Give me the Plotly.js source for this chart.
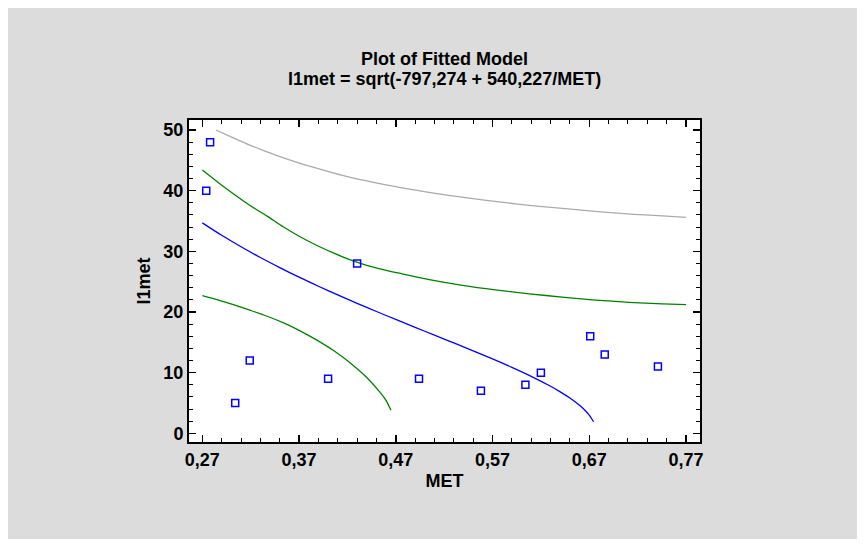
<!DOCTYPE html>
<html>
<head>
<meta charset="utf-8">
<script src="https://cdn.plot.ly/plotly-3.0.1.min.js"></script>
<style>
  html, body { margin: 0; padding: 0; background: #ffffff; }
  #chart { position: absolute; left: 8px; top: 8px; width: 849px; height: 531px; }
</style>
</head>
<body>
<div id="chart"></div>
<script>
// Observed values
const met   = [0.274, 0.278, 0.304, 0.319, 0.400, 0.430, 0.494, 0.558, 0.604, 0.620, 0.671, 0.686, 0.741];
const l1met = [40, 48, 5, 12, 9, 28, 9, 7, 8, 10, 16, 13, 11];

// Fitted model l1met = sqrt(-797,274 + 540,227/MET)
const fitX = [0.27, 0.29, 0.31, 0.33, 0.35, 0.37, 0.39, 0.41, 0.43, 0.45, 0.47, 0.49, 0.51,
              0.53, 0.55, 0.57, 0.59, 0.61, 0.63, 0.64, 0.65, 0.66, 0.665, 0.67, 0.6745];
const fitY = [34.69, 32.64, 30.75, 28.98, 27.32, 25.74, 24.25, 22.81, 21.43, 20.08, 18.77, 17.47, 16.19,
              14.90, 13.60, 12.27, 10.88, 9.40, 7.76, 6.84, 5.82, 4.61, 3.89, 3.01, 1.91];

// Confidence limits for the mean
const confUpX = [0.270, 0.286, 0.302, 0.319, 0.337, 0.354, 0.371, 0.388, 0.406, 0.423, 0.440, 0.457,
                 0.475, 0.506, 0.539, 0.573, 0.608, 0.642, 0.677, 0.711, 0.746, 0.770];
const confUpY = [43.4, 41.4, 39.5, 37.6, 35.8, 34.0, 32.4, 31.0, 29.7, 28.6, 27.7, 27.0,
                 26.35, 25.3, 24.4, 23.65, 23.0, 22.45, 21.95, 21.6, 21.35, 21.2];
const confLoX = [0.270, 0.286, 0.302, 0.319, 0.337, 0.354, 0.371, 0.388, 0.406, 0.423, 0.440, 0.454, 0.460, 0.465];
const confLoY = [22.7, 22.0, 21.2, 20.3, 19.3, 18.2, 16.9, 15.4, 13.6, 11.6, 9.2, 6.7, 5.4, 3.8];

// Upper prediction limit
const predUpX = [0.284, 0.302, 0.319, 0.337, 0.354, 0.371, 0.388, 0.406, 0.423, 0.440, 0.475, 0.509,
                 0.544, 0.579, 0.613, 0.648, 0.682, 0.716, 0.750, 0.770];
const predUpY = [50.0, 48.7, 47.5, 46.4, 45.4, 44.5, 43.7, 42.9, 42.2, 41.6, 40.5, 39.6,
                 38.8, 38.1, 37.5, 37.0, 36.5, 36.1, 35.8, 35.6];

// Axis ticks
const xTickVals = [0.27, 0.37, 0.47, 0.57, 0.67, 0.77];
const yTickVals = [0, 10, 20, 30, 40, 50];

const FONT = 'Liberation Sans, Arial, Helvetica, sans-serif';
const boldFont = (size) => ({ family: FONT, size: size, color: '#000000', weight: 'bold' });

const curve = (x, y, color) => ({
  x: x, y: y, type: 'scatter', mode: 'lines',
  line: { color: color, width: 1.3, shape: 'spline', smoothing: 0.8 },
  hoverinfo: 'skip', showlegend: false
});

const traces = [
  curve(predUpX, predUpY, '#aaaaaa'),
  curve(confUpX, confUpY, '#008000'),
  curve(confLoX, confLoY, '#008000'),
  curve(fitX, fitY, '#0000ff'),
  {
    x: met, y: l1met, type: 'scatter', mode: 'markers',
    marker: { symbol: 'square-open', size: 7, color: '#0000ff', line: { width: 1.5, color: '#0000ff' } },
    showlegend: false
  }
];

const axisCommon = {
  showgrid: false, zeroline: false,
  showline: true, linecolor: '#000000', linewidth: 2, mirror: 'allticks',
  ticks: 'inside', ticklen: 7, tickwidth: 1.5, tickcolor: '#000000',
  tickfont: boldFont(18)
};

const layout = {
  width: 849, height: 531,
  paper_bgcolor: '#dcdcdc', plot_bgcolor: '#ffffff',
  separators: ', ',
  margin: { l: 181, r: 157, t: 112, b: 97, pad: 0 },
  title: {
    text: 'Plot of Fitted Model', font: boldFont(18),
    xref: 'paper', x: 0.5, xanchor: 'center',
    yref: 'container', y: 0.904, yanchor: 'middle'
  },
  annotations: [{
    text: 'l1met = sqrt(-797,274 + 540,227/MET)', font: boldFont(18),
    xref: 'paper', x: 0.5, xanchor: 'center',
    yref: 'paper', y: 1.127, yanchor: 'middle',
    showarrow: false
  }],
  xaxis: Object.assign({}, axisCommon, {
    range: [0.2562, 0.7845],
    tickvals: xTickVals, tickformat: '.2f',
    minor: { tick0: 0.27, dtick: 0.02, ticks: 'inside', ticklen: 4, tickwidth: 1, tickcolor: '#000000', showgrid: false },
    title: { text: 'MET', font: boldFont(18), standoff: 6 }
  }),
  yaxis: Object.assign({}, axisCommon, {
    range: [-1.43, 51.65],
    tickvals: yTickVals, tickformat: 'd',
    minor: { tick0: 0, dtick: 2, ticks: 'inside', ticklen: 4, tickwidth: 1, tickcolor: '#000000', showgrid: false },
    title: { text: 'l1met', font: boldFont(18), standoff: 8 }
  })
};

Plotly.newPlot('chart', traces, layout, { staticPlot: true, displayModeBar: false });
</script>
</body>
</html>
